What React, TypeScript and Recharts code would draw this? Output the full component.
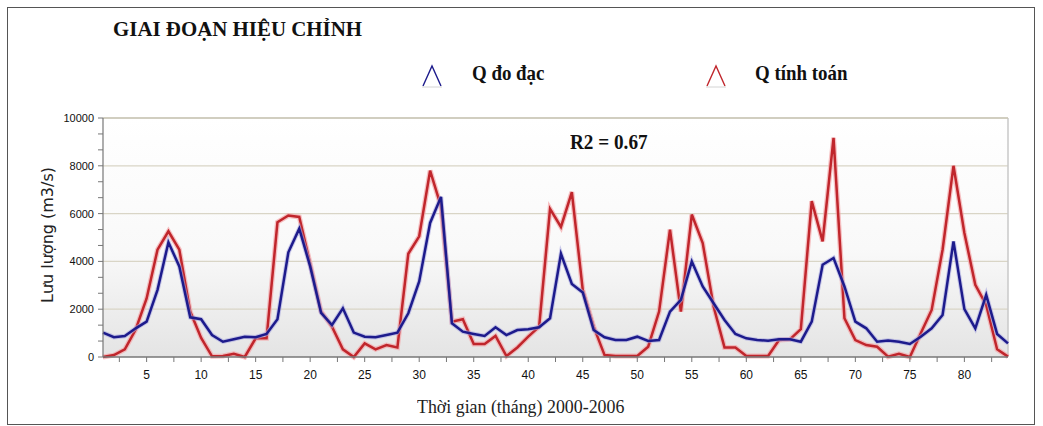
import React from "react";
import {
  LineChart,
  Line,
  XAxis,
  YAxis,
  CartesianGrid,
  ReferenceLine,
} from "recharts";

// Q đo đạc (blue), by month 1..84
const measured = [
  1020, 830, 880, 1200, 1480, 2810, 4800, 3790, 1660, 1580, 920, 640, 740, 850, 830, 965, 1580, 4380, 5370, 3790,
  1850, 1340, 2040, 1020, 850, 825, 920, 1020, 1830, 3160, 5610, 6700, 1410, 1060, 965, 880, 1245, 920, 1130, 1160,
  1245, 1620, 4320, 3060, 2700, 1130, 825, 710, 710, 850, 670, 710, 1900, 2390, 4000, 2950, 2250, 1550, 965, 780,
  710, 685, 740, 740, 640, 1480, 3860, 4140, 2950, 1480, 1200, 640, 685, 640, 545, 850, 1200, 1760, 4840, 2000,
  1200, 2600, 965, 570,
];

// Q tính toán (red)
const computed = [
  0, 80, 320, 1150, 2450, 4490, 5260, 4490, 1900, 800, 30, 40, 130, 0, 780, 780, 5640, 5920, 5860, 3900,
  1900, 1270, 320, 0, 570, 320, 500, 400, 4320, 5050, 7800, 6300, 1480, 1580, 545, 545, 880, 40, 400, 850,
  1270, 6200, 5440, 6900, 2810, 1270, 80, 40, 40, 40, 430, 1900, 5330, 1900, 5960, 4770, 2110, 400, 400, 40,
  40, 40, 710, 740, 1160, 6520, 4840, 9170, 1620, 710, 500, 430, 15, 130, 0, 990, 1970, 4490, 8000, 5190,
  3020, 2180, 320, 15,
];

const xTicks = [
  2.5, 5, 7.5, 10, 12.5, 15, 17.5, 20, 22.5, 25, 27.5, 30, 32.5, 35, 37.5, 40, 42.5, 45, 47.5, 50, 52.5, 55,
  57.5, 60, 62.5, 65, 67.5, 70, 72.5, 75, 77.5, 80, 82.5,
];
const yTicks = [0, 667, 1333, 2000, 2667, 3333, 4000, 4667, 5333, 6000, 6667, 7333, 8000, 8667, 9333, 10000];
const yGrid = [2000, 4000, 6000, 8000, 10000];

const data = measured.map((q, i) => ({ month: i + 1, measured: q, computed: computed[i] }));

const BLUE = "#1d1b8c";
const RED = "#c0262c";

function LegendMark({ color }: { color: string }) {
  return (
    <svg width={24} height={26} style={{ display: "block" }}>
      <polyline points="3,23 12,3 21,23" fill="none" stroke={color} strokeWidth={1.4} />
      <line x1={2} y1={24} x2={22} y2={24} stroke="#d4d4d4" strokeWidth={1} />
    </svg>
  );
}

const serif = "'Liberation Serif', 'Times New Roman', serif";
const sans = "'Liberation Sans', Arial, sans-serif";

const textBase: React.CSSProperties = {
  position: "absolute",
  whiteSpace: "nowrap",
  transformOrigin: "left",
  lineHeight: 1,
  color: "#111",
};

export default function App() {
  return (
    <div style={{ position: "relative", width: 1043, height: 426, background: "#fff" }}>
      <style>{"body { margin: 0; }"}</style>
      <div
        style={{
          ...textBase,
          left: 113,
          top: 18,
          fontFamily: serif,
          fontWeight: "bold",
          fontSize: 22,
          transform: "scaleX(0.95)",
        }}
      >
        GIAI ĐOẠN HIỆU CHỈNH
      </div>

      <div style={{ position: "absolute", left: 420, top: 63 }}>
        <LegendMark color={BLUE} />
      </div>
      <div style={{ ...textBase, left: 472, top: 63, fontFamily: serif, fontWeight: "bold", fontSize: 21, transform: "scaleX(0.9)" }}>
        Q đo đạc
      </div>
      <div style={{ position: "absolute", left: 704, top: 63 }}>
        <LegendMark color={RED} />
      </div>
      <div style={{ ...textBase, left: 755, top: 63, fontFamily: serif, fontWeight: "bold", fontSize: 21, transform: "scaleX(0.9)" }}>
        Q tính toán
      </div>

      <LineChart
        width={1043}
        height={426}
        data={data}
        margin={{ top: 118, right: 35, bottom: 40, left: 0 }}
        style={{ position: "absolute", left: 0, top: 0 }}
      >
        <defs>
          <linearGradient id="plotBg" x1="0" y1="0" x2="0" y2="1">
            <stop offset="0%" stopColor="#ffffff" />
            <stop offset="55%" stopColor="#f9f9f9" />
            <stop offset="100%" stopColor="#e4e4e4" />
          </linearGradient>
        </defs>
        <CartesianGrid
          vertical={false}
          horizontalValues={yGrid}
          stroke="#d9d5c6"
          strokeWidth={1.2}
          fill="url(#plotBg)"
          fillOpacity={1}
        />
        <XAxis
          dataKey="month"
          type="number"
          domain={[1, 84]}
          ticks={xTicks}
          interval={0}
          height={29}
          tickSize={5}
          tickMargin={8}
          tickFormatter={(v: number) => (v % 5 === 0 ? String(v) : "")}
          tick={{ fontSize: 12, fill: "#111", fontFamily: sans }}
          axisLine={{ stroke: "#777", strokeWidth: 1.5 }}
          tickLine={{ stroke: "#777" }}
        />
        <YAxis
          type="number"
          domain={[0, 10000]}
          ticks={yTicks}
          interval={0}
          width={103}
          tickSize={5}
          tickMargin={4}
          tickFormatter={(v: number) => (v % 2000 === 0 ? String(v) : "")}
          tick={{ fontSize: 11, fill: "#111", fontFamily: sans }}
          axisLine={{ stroke: "#777", strokeWidth: 1.2 }}
          tickLine={{ stroke: "#777" }}
        />
        <ReferenceLine x={84} stroke="#c8c8c8" strokeWidth={1.5} />
        <ReferenceLine y={10000} stroke="#c8c4b4" strokeWidth={1.5} />
        <Line
          dataKey="computed"
          stroke="#f3a7a9"
          strokeWidth={5}
          strokeOpacity={0.7}
          dot={false}
          activeDot={false}
          isAnimationActive={false}
          strokeLinejoin="miter"
        />
        <Line
          dataKey="computed"
          stroke={RED}
          strokeWidth={2.5}
          dot={false}
          activeDot={false}
          isAnimationActive={false}
          strokeLinejoin="miter"
        />
        <Line
          dataKey="measured"
          stroke="#a9a9e0"
          strokeWidth={4.5}
          strokeOpacity={0.6}
          dot={false}
          activeDot={false}
          isAnimationActive={false}
          strokeLinejoin="miter"
        />
        <Line
          dataKey="measured"
          stroke={BLUE}
          strokeWidth={2.5}
          dot={false}
          activeDot={false}
          isAnimationActive={false}
          strokeLinejoin="miter"
        />
      </LineChart>

      <div
        style={{
          position: "absolute",
          left: 48,
          top: 235,
          whiteSpace: "nowrap",
          lineHeight: 1,
          fontFamily: "'DejaVu Sans', Verdana, sans-serif",
          fontSize: 16,
          color: "#222",
          transform: "translate(-50%, -50%) rotate(-90deg)",
        }}
      >
        Lưu lượng (m3/s)
      </div>

      <div style={{ ...textBase, left: 570, top: 132, fontFamily: serif, fontWeight: "bold", fontSize: 20, transform: "scaleX(0.96)" }}>
        R2 = 0.67
      </div>

      <div style={{ ...textBase, left: 417, top: 397, fontFamily: serif, fontSize: 19, transform: "scaleX(0.94)", color: "#222" }}>
        Thời gian (tháng) 2000-2006
      </div>

      <svg
        width={1043}
        height={426}
        style={{ position: "absolute", left: 0, top: 0, pointerEvents: "none", zIndex: 5 }}
      >
        <rect x={7.5} y={7.5} width={1027} height={417} fill="none" stroke="#555" strokeWidth={1} />
      </svg>
    </div>
  );
}
